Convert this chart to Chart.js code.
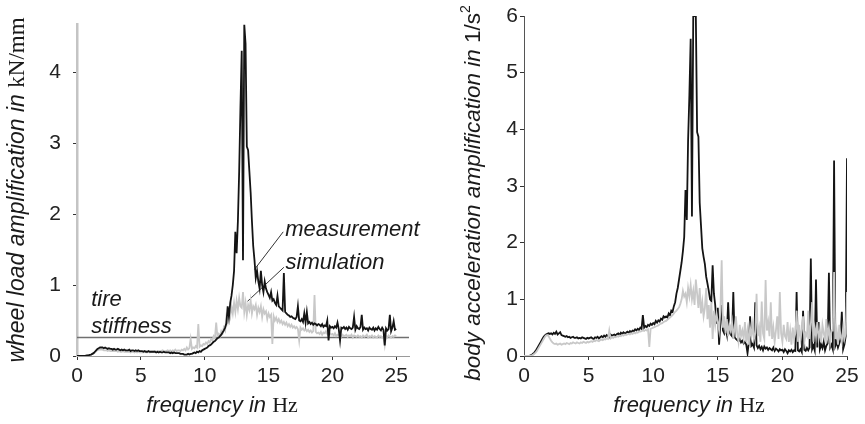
<!DOCTYPE html>
<html>
<head>
<meta charset="utf-8">
<script src="https://cdn.jsdelivr.net/npm/chart.js@4.4.1/dist/chart.umd.min.js"></script>
<style>
body { margin: 0; background: #fff; }
#left { position: absolute; left: 0; top: 0; }
#right { position: absolute; left: 432px; top: 0; }
</style>
</head>
<body>
<canvas id="left" width="432" height="424"></canvas>
<canvas id="right" width="433" height="424"></canvas>
<script>
// frequency grid in Hz (0.1 Hz steps, 0..25)
const freq = [];
for (let i = 0; i <= 250; i++) freq.push(i / 10);

const xTicks = [0, 5, 10, 15, 20, 25];
const wheelTicks = [0, 1, 2, 3, 4];
const bodyTicks = [0, 1, 2, 3, 4, 5, 6];

// wheel load amplification in kN/mm
const wheelMeas = [
  0,0,0,0,0,0,0,0.005,0.01,0.01,
  0.015,0.02,0.03,0.04,0.06,0.08,0.10,0.11,0.12,0.12,
  0.12,0.11,0.12,0.11,0.10,0.11,0.10,0.10,0.09,0.10,
  0.09,0.09,0.10,0.09,0.08,0.09,0.08,0.09,0.08,0.08,
  0.08,0.09,0.07,0.08,0.08,0.07,0.08,0.07,0.08,0.07,
  0.07,0.07,0.06,0.07,0.06,0.06,0.07,0.06,0.06,0.06,
  0.06,0.06,0.05,0.06,0.05,0.06,0.05,0.05,0.06,0.05,
  0.05,0.05,0.05,0.04,0.05,0.04,0.05,0.04,0.04,0.04,
  0.04,0.03,0.03,0.03,0.02,0.02,0.02,0.03,0.02,0.03,
  0.03,0.04,0.05,0.04,0.06,0.05,0.07,0.06,0.08,0.09,
  0.10,0.11,0.12,0.14,0.15,0.16,0.18,0.20,0.21,0.23,
  0.25,0.26,0.28,0.30,0.33,0.36,0.40,0.46,0.70,0.55,
  0.75,0.85,1.00,1.20,1.75,1.45,1.90,2.60,3.50,4.30,
  1.35,4.67,4.40,2.95,2.90,2.60,2.30,1.90,1.55,1.35,
  1.10,1.20,1.05,0.95,1.20,1.00,0.90,1.05,0.95,0.90,
  0.86,0.82,0.90,0.78,0.80,0.75,0.72,0.85,0.70,0.68,
  0.66,0.64,1.17,0.62,0.60,0.58,0.57,0.55,0.56,0.54,
  0.53,0.52,0.55,0.70,0.50,0.49,0.52,0.48,0.60,0.47,
  0.62,0.46,0.48,0.45,0.47,0.44,0.46,0.45,0.43,0.45,
  0.44,0.42,0.45,0.41,0.43,0.42,0.50,0.22,0.42,0.40,
  0.41,0.39,0.42,0.40,0.47,0.38,0.22,0.40,0.39,0.41,
  0.38,0.40,0.37,0.41,0.39,0.38,0.40,0.55,0.37,0.42,
  0.39,0.38,0.41,0.58,0.37,0.40,0.38,0.39,0.36,0.40,
  0.38,0.37,0.40,0.36,0.39,0.37,0.41,0.38,0.36,0.40,
  0.37,0.15,0.39,0.36,0.38,0.58,0.35,0.40,0.49,0.37,
  0.38
];
const wheelSim = [
  0,0,0,0,0,0,0,0.005,0.01,0.01,
  0.015,0.02,0.03,0.04,0.05,0.07,0.08,0.09,0.09,0.09,
  0.09,0.08,0.08,0.08,0.07,0.08,0.07,0.07,0.07,0.07,
  0.07,0.07,0.06,0.07,0.06,0.06,0.07,0.06,0.06,0.06,
  0.06,0.06,0.05,0.06,0.06,0.05,0.06,0.05,0.06,0.05,
  0.05,0.05,0.05,0.06,0.05,0.05,0.06,0.05,0.06,0.06,
  0.06,0.07,0.06,0.07,0.07,0.06,0.07,0.08,0.07,0.07,
  0.07,0.08,0.07,0.08,0.06,0.08,0.07,0.09,0.07,0.08,
  0.08,0.07,0.09,0.08,0.10,0.08,0.12,0.09,0.11,0.24,
  0.10,0.12,0.11,0.14,0.12,0.45,0.13,0.15,0.14,0.17,
  0.16,0.19,0.17,0.21,0.19,0.24,0.22,0.28,0.25,0.47,
  0.27,0.31,0.28,0.35,0.32,0.40,0.36,0.55,0.48,0.62,
  0.55,0.70,0.60,0.75,0.62,0.78,0.66,0.82,0.70,0.68,
  0.90,0.62,0.75,0.58,0.72,0.65,0.78,0.60,0.70,0.66,
  0.72,0.58,0.68,0.62,0.70,0.55,0.66,0.60,0.63,0.52,
  0.60,0.55,0.58,0.17,0.56,0.50,0.54,0.48,0.52,0.47,
  0.50,0.45,0.48,0.44,0.47,0.42,0.45,0.41,0.44,0.40,
  0.42,0.39,0.41,0.38,0.22,0.40,0.37,0.39,0.36,0.38,
  0.35,0.37,0.34,0.36,0.33,0.35,0.86,0.34,0.32,0.33,
  0.31,0.34,0.30,0.33,0.32,0.35,0.31,0.29,0.32,0.30,
  0.31,0.29,0.32,0.28,0.30,0.29,0.31,0.27,0.30,0.28,
  0.29,0.30,0.27,0.29,0.28,0.30,0.26,0.29,0.28,0.27,
  0.29,0.27,0.28,0.26,0.29,0.27,0.28,0.30,0.26,0.28,
  0.27,0.29,0.26,0.28,0.27,0.26,0.29,0.27,0.28,0.26,
  0.27,0.15,0.28,0.26,0.29,0.27,0.26,0.28,0.27,0.29,
  0.28
];
const tireStiffness = 0.26;

// body acceleration amplification in 1/s^2
const bodyMeas = [
  0,0,0,0,0,0.01,0.02,0.04,0.06,0.09,
  0.13,0.17,0.21,0.25,0.29,0.33,0.36,0.38,0.39,0.40,
  0.39,0.40,0.38,0.41,0.39,0.43,0.38,0.40,0.42,0.37,
  0.36,0.35,0.34,0.35,0.33,0.34,0.32,0.33,0.34,0.32,
  0.32,0.33,0.31,0.32,0.31,0.33,0.32,0.31,0.30,0.32,
  0.31,0.32,0.33,0.31,0.30,0.33,0.32,0.34,0.31,0.33,
  0.35,0.33,0.36,0.34,0.37,0.35,0.33,0.38,0.36,0.37,
  0.38,0.36,0.39,0.40,0.37,0.41,0.39,0.42,0.40,0.41,
  0.43,0.41,0.44,0.42,0.45,0.44,0.47,0.45,0.48,0.46,
  0.50,0.48,0.72,0.50,0.53,0.51,0.55,0.53,0.57,0.55,
  0.58,0.56,0.62,0.59,0.63,0.61,0.66,0.64,0.70,0.68,
  0.70,0.68,0.75,0.72,0.80,0.78,0.88,0.95,1.10,1.20,
  1.35,1.50,1.65,1.85,2.10,2.93,2.40,3.80,4.60,5.60,
  2.46,6.00,6.00,6.00,3.95,3.87,2.70,2.30,1.90,1.75,
  1.62,1.40,1.28,1.15,1.00,0.97,1.60,1.10,0.90,0.57,
  0.85,0.20,0.60,0.90,0.45,0.40,0.50,0.38,0.95,0.42,
  0.38,0.35,1.13,0.33,0.30,0.28,0.26,0.30,0.24,0.27,
  0.22,0.25,0.20,0.05,0.23,0.70,0.18,0.21,0.15,0.95,
  0.19,0.14,0.18,0.12,0.16,0.10,0.17,0.13,0.15,0.11,
  0.14,0.12,0.10,0.15,0.09,0.13,0.11,0.08,0.12,0.10,
  0.11,0.07,0.12,0.09,0.05,0.10,0.08,0.11,0.07,0.10,
  0.09,1.13,0.10,0.08,0.12,0.07,0.80,0.11,0.09,0.14,
  0.10,0.15,1.72,0.12,0.18,0.10,1.35,0.15,0.60,0.12,
  0.20,0.14,0.25,0.10,0.18,0.22,1.47,0.15,0.20,0.12,
  3.45,0.18,0.25,0.15,0.22,0.30,0.78,0.12,0.20,0.35,
  3.49
];
const bodySim = [
  0,0,0,0,0,0.005,0.01,0.02,0.04,0.06,
  0.09,0.13,0.17,0.21,0.25,0.29,0.33,0.36,0.37,0.35,
  0.31,0.27,0.24,0.22,0.21,0.22,0.20,0.21,0.22,0.20,
  0.21,0.22,0.21,0.23,0.22,0.21,0.23,0.22,0.24,0.23,
  0.22,0.24,0.23,0.22,0.24,0.23,0.25,0.24,0.23,0.25,
  0.24,0.25,0.26,0.25,0.27,0.26,0.28,0.27,0.26,0.28,
  0.29,0.28,0.30,0.29,0.31,0.30,0.45,0.31,0.33,0.32,
  0.34,0.33,0.35,0.34,0.36,0.35,0.37,0.36,0.38,0.37,
  0.38,0.39,0.38,0.40,0.39,0.41,0.40,0.42,0.41,0.43,
  0.43,0.44,0.45,0.44,0.46,0.45,0.47,0.16,0.48,0.49,
  0.50,0.51,0.52,0.53,0.54,0.56,0.57,0.58,0.60,0.61,
  0.62,0.64,0.66,0.68,0.70,0.72,0.75,0.78,0.80,0.83,
  0.86,0.92,1.00,1.15,1.05,1.10,0.95,1.20,1.05,1.25,
  1.00,1.15,0.90,1.35,1.10,0.85,1.20,0.75,0.95,0.70,
  0.85,1.20,0.65,0.90,0.50,0.95,0.30,0.80,0.55,0.75,
  0.60,0.45,0.80,1.69,0.50,0.70,0.40,0.65,0.35,0.55,
  0.45,0.60,0.30,0.50,0.70,0.40,0.25,0.55,0.35,0.45,
  0.30,0.60,0.25,0.45,0.20,0.50,0.35,0.55,0.30,0.40,
  1.10,0.35,0.50,0.25,0.96,0.40,0.30,1.34,0.45,0.60,
  0.35,0.95,0.30,0.50,0.25,0.45,0.70,0.30,1.13,0.40,
  0.25,0.55,0.35,0.30,0.60,0.25,0.45,0.20,0.50,0.30,
  0.40,0.80,0.25,0.55,0.30,0.45,0.70,0.25,0.40,0.35,
  0.80,0.30,0.55,0.95,0.25,0.50,0.35,0.60,0.30,0.45,
  0.25,0.55,0.40,0.30,0.65,0.35,0.50,0.25,0.45,0.45,
  1.48,0.30,0.45,0.20,0.55,0.35,0.25,0.50,0.30,0.40,
  1.13
];

// leader lines for the labels in the left chart (Hz, kN/mm)
const measLeader = [[13.9, 1.22], [16.15, 1.75]];
const simLeader = [[13.35, 0.77], [16.2, 1.25]];

const SANS = '"Liberation Sans", Arial, sans-serif';
const SERIF = '"Liberation Serif", "Times New Roman", serif';
const italic = 'italic 22px ' + SANS;
const upright = '22px ' + SERIF;

function pts(ys) {
  return freq.map((f, i) => ({ x: f, y: ys[i] }));
}
function pairs(arr) {
  return arr.map(p => ({ x: p[0], y: p[1] }));
}

// draw a run of text pieces with different fonts, centred on (x, y)
function drawParts(ctx, parts, x, y, rotate) {
  ctx.save();
  ctx.translate(x, y);
  if (rotate) ctx.rotate(-Math.PI / 2);
  ctx.fillStyle = '#1a1a1a';
  ctx.textAlign = 'left';
  ctx.textBaseline = 'alphabetic';
  let total = 0;
  parts.forEach(p => { ctx.font = p.font; total += ctx.measureText(p.text).width; });
  let pos = -total / 2;
  parts.forEach(p => {
    ctx.font = p.font;
    ctx.fillText(p.text, pos, p.dy || 0);
    pos += ctx.measureText(p.text).width;
  });
  ctx.restore();
}

const titles = {
  id: 'titles',
  afterDraw(chart, args, opts) {
    const ctx = chart.ctx;
    drawParts(ctx, opts.xTitle, opts.xPos[0], opts.xPos[1], false);
    drawParts(ctx, opts.yTitle, opts.yPos[0], opts.yPos[1], true);
    if (opts.labels) {
      const sx = chart.scales.x, sy = chart.scales.y;
      ctx.save();
      ctx.font = italic;
      ctx.fillStyle = '#1a1a1a';
      ctx.textBaseline = 'alphabetic';
      opts.labels.forEach(l => {
        ctx.fillText(l.text, sx.getPixelForValue(l.at[0]), sy.getPixelForValue(l.at[1]));
      });
      ctx.restore();
    }
  }
};

function axisScale(max, ticks, size, borderColor, borderWidth, pad) {
  return {
    type: 'linear',
    min: 0,
    max: max,
    afterBuildTicks: s => { s.ticks = ticks.map(v => ({ value: v })); },
    afterFit: s => { if (s.isHorizontal()) s.height = size; else s.width = size; },
    border: { display: true, color: borderColor, width: borderWidth },
    grid: { drawOnChartArea: false, drawTicks: true, tickLength: 4, color: '#333' },
    ticks: { color: '#222', font: { family: SANS, size: 21 }, padding: pad, maxRotation: 0 }
  };
}

const lineStyle = { pointRadius: 0, borderWidth: 1.8, tension: 0, fill: false };

new Chart(document.getElementById('left'), {
  type: 'line',
  data: {
    datasets: [
      { ...lineStyle, data: pts(wheelMeas), borderColor: '#141414' },
      { ...lineStyle, data: pts(wheelSim), borderColor: '#c8c8c8' },
      { ...lineStyle, data: [{ x: 0, y: tireStiffness }, { x: 26, y: tireStiffness }], borderColor: '#707070', borderWidth: 1.5 },
      { ...lineStyle, data: pairs(measLeader), borderColor: '#333', borderWidth: 1 },
      { ...lineStyle, data: pairs(simLeader), borderColor: '#333', borderWidth: 1 }
    ]
  },
  options: {
    responsive: false,
    animation: false,
    devicePixelRatio: 1,
    layout: { padding: { left: 0, top: 16, right: 23, bottom: 0 } },
    plugins: {
      legend: { display: false },
      tooltip: { enabled: false },
      titles: {
        xTitle: [{ text: 'frequency in ', font: italic }, { text: 'Hz', font: upright }],
        xPos: [222, 412],
        yTitle: [
          { text: 'wheel load amplification in ', font: 'italic 23px ' + SANS },
          { text: 'kN/mm', font: '23px ' + SERIF }
        ],
        yPos: [24, 190],
        labels: [
          { text: 'measurement', at: [16.3, 1.69] },
          { text: 'simulation', at: [16.33, 1.22] },
          { text: 'tire', at: [1.11, 0.70] },
          { text: 'stiffness', at: [1.11, 0.33] }
        ]
      }
    },
    scales: {
      x: axisScale(26, xTicks, 68, '#9a9a9a', 1, 4),
      y: axisScale(4.67, wheelTicks, 77, '#c4c4c4', 2.5, 12)
    }
  },
  plugins: [titles]
});

new Chart(document.getElementById('right'), {
  type: 'line',
  data: {
    datasets: [
      { ...lineStyle, data: pts(bodyMeas), borderColor: '#141414', order: 1 },
      { ...lineStyle, data: pts(bodySim), borderColor: '#c8c8c8', order: 0 }
    ]
  },
  options: {
    responsive: false,
    animation: false,
    devicePixelRatio: 1,
    layout: { padding: { left: 0, top: 16, right: 18, bottom: 0 } },
    plugins: {
      legend: { display: false },
      tooltip: { enabled: false },
      titles: {
        xTitle: [{ text: 'frequency in ', font: italic }, { text: 'Hz', font: upright }],
        xPos: [257, 412],
        yTitle: [
          { text: 'body acceleration amplification in ', font: 'italic 22.5px ' + SANS },
          { text: '1/s', font: '22.5px ' + SANS },
          { text: '2', font: '14px ' + SANS, dy: -10 }
        ],
        yPos: [48, 193]
      }
    },
    scales: {
      x: axisScale(25, xTicks, 68, '#555', 1, 4),
      y: axisScale(6, bodyTicks, 92, '#555', 1, 2)
    }
  },
  plugins: [titles]
});
</script>
</body>
</html>
